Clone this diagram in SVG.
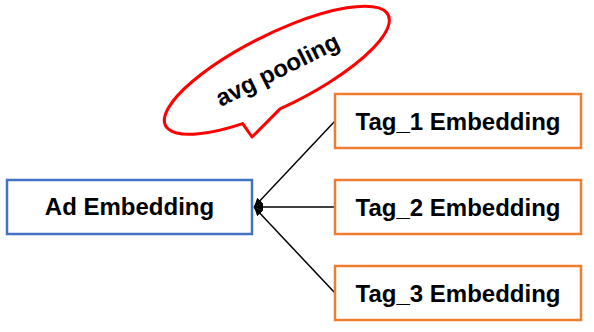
<svg xmlns="http://www.w3.org/2000/svg" width="594" height="332" viewBox="0 0 594 332">
  <style>
    .box { fill: #ffffff; stroke-width: 2.5; }
    .ad { stroke: #4472C4; }
    .tag { stroke: #ED7D31; }
    .label { font-family: "Liberation Sans", Arial, sans-serif; font-weight: bold; font-size: 24px; fill: #000000; text-anchor: middle; }
    .edge { stroke: #000000; stroke-width: 1.5; fill: none; marker-end: url(#arrow); }
    .callout { fill: #ffffff; stroke: #FF0000; stroke-width: 3; stroke-linejoin: round; }
  </style>
  <defs>
    <marker id="arrow" markerUnits="userSpaceOnUse" markerWidth="10" markerHeight="10" viewBox="0 0 10 10" refX="9" refY="5" orient="auto">
      <path d="M0,1 L9,5 L0,9 Z" fill="#000000"/>
    </marker>
  </defs>

  <rect width="594" height="332" fill="#ffffff"/>

  <!-- speech bubble for the pooling step -->
  <g id="avg-pooling" transform="translate(277.5,70) rotate(-26.4)">
    <path class="callout" d="M -15,35.9 A 124.3 36.2 0 1 0 -55,32.5 L -52.6,48.7 Z"/>
    <text class="label" x="0" y="8">avg pooling</text>
  </g>

  <!-- connectors: each tag embedding feeds the ad embedding -->
  <g id="connectors">
    <line class="edge" x1="335" y1="121" x2="254" y2="207"/>
    <line class="edge" x1="335" y1="207" x2="254" y2="207"/>
    <line class="edge" x1="335" y1="293" x2="254" y2="207"/>
  </g>

  <g id="ad-embedding">
    <rect class="box ad" x="7" y="180" width="245" height="54"/>
    <text class="label" x="129.5" y="215">Ad Embedding</text>
  </g>

  <g id="tag1-embedding">
    <rect class="box tag" x="335" y="94" width="246" height="54"/>
    <text class="label" x="458" y="130">Tag_1 Embedding</text>
  </g>

  <g id="tag2-embedding">
    <rect class="box tag" x="335" y="180" width="246" height="54"/>
    <text class="label" x="458" y="216">Tag_2 Embedding</text>
  </g>

  <g id="tag3-embedding">
    <rect class="box tag" x="335" y="266" width="246" height="54"/>
    <text class="label" x="458" y="302">Tag_3 Embedding</text>
  </g>
</svg>
